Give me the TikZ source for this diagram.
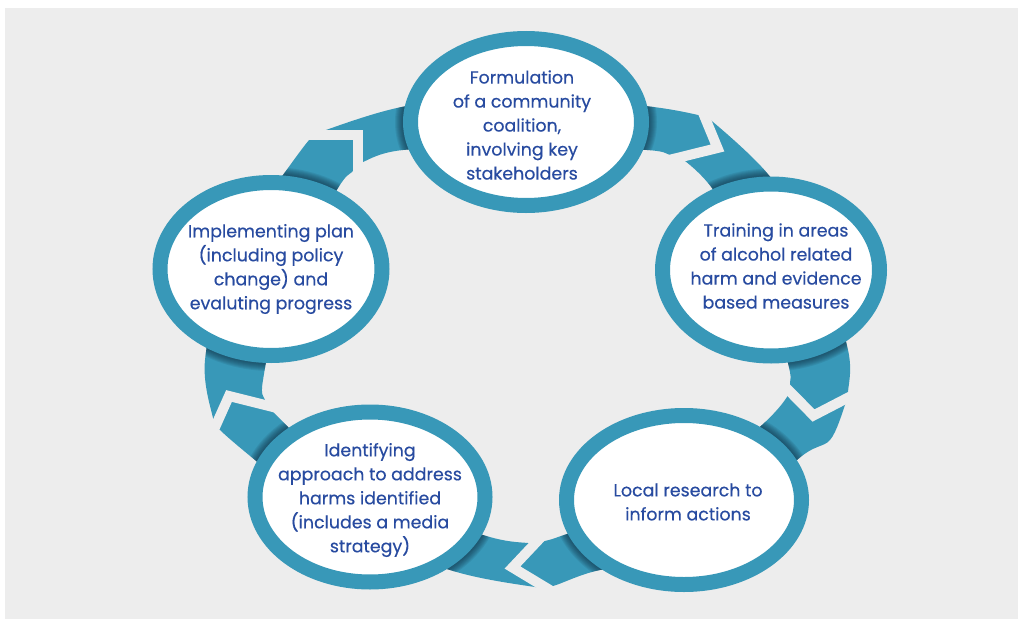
\documentclass[tikz,border=0pt]{standalone}
\usepackage{fontspec}
\setmainfont{Poppins}
\usetikzlibrary{shapes.geometric,backgrounds}

\definecolor{ringteal}{RGB}{56,152,184}
\definecolor{textblue}{RGB}{40,75,160}
\definecolor{panelgray}{RGB}{237,237,237}
\definecolor{shadenavy}{RGB}{15,45,65}

\tikzset{
    bubble/.style={ellipse, draw=ringteal, line width=15pt, fill=white, inner sep=0pt},
    caption/.style={align=center, text=textblue, font=\fontsize{17.4}{24}\selectfont\addfontfeature{FakeBold=0.4}},
    cut/.style={draw=panelgray, line width=10pt, line join=miter, miter limit=10},
}

\def\ringpath{plot[smooth cycle] coordinates {(283,175) (310,139) (323,131) (407,106) (527,97) (645,106) (698,115) (713,122) (767,173) (815,245) (848,350) (848,392) (845,405) (830,440) (797,460) (700,555) (600,570) (553,586) (535,587) (450,570) (330,520) (255,460) (220,430) (213,418) (205,360) (230,250)}
    plot[smooth cycle] coordinates {(338,188) (352,172) (363,162) (403,150) (527,145) (647,150) (670,155) (685,161) (712,188) (760,260) (788,363) (790,383) (787,397) (762,425) (680,495) (567,534) (545,541) (528,543) (483,535) (360,490) (273,412) (265,400) (263,380) (285,280)}}

\begin{document}
\begin{tikzpicture}[x=1pt, y=-1pt]
    \useasboundingbox (0,0) rectangle (1018,621);

    \node (form) at (526,122) [bubble, minimum width=231pt, minimum height=167pt] {};
    \node (train) at (771,270) [bubble, minimum width=217pt, minimum height=172pt] {};
    \node (research) at (684,500) [bubble, minimum width=235pt, minimum height=169pt] {};
    \node (approach) at (370,497) [bubble, minimum width=230pt, minimum height=170pt] {};
    \node (implement) at (271,269) [bubble, minimum width=222pt, minimum height=173pt] {};

    \node (formtext) at (522,125) [caption] {Formulation\\of a community\\coalition,\\involving key\\stakeholders};
    \node (traintext) at (776,266) [caption] {Training in areas\\of alcohol related\\harm and evidence\\based measures};
    \node (researchtext) at (688,502) [caption] {Local research to\\inform actions};
    \node (approachtext) at (370,500) [caption] {Identifying\\approach to address\\harms identified\\(includes a media\\strategy)};
    \node (implementtext) at (271,269) [caption] {Implementing plan\\(including policy\\change) and\\evaluting progress};

    \begin{scope}[on background layer]
        \fill[white] (0,0) rectangle (1018,621);
        \fill[panelgray] (5,8) rectangle (1018,619);
        \fill[ringteal, even odd rule] \ringpath;
        \begin{scope}[even odd rule]
            \clip \ringpath;
            \foreach \n/\rx/\ry in {form/115.5/83.5, train/108.5/86, research/117.5/84.5, approach/115/85, implement/111/86.5}
                \foreach \k in {1,...,8}
                    \draw[shadenavy, opacity=0.1, line width=15+2*\k] (\n.center) ellipse [x radius=\rx, y radius=\ry];
        \end{scope}
        \draw[cut] (701,108) -- (717.5,148) -- (665,161);
        \draw[cut] (855,394) -- (813.5,415.5) -- (781.5,383);
        \draw[cut] (552.6,591.7) -- (512.5,567.5) -- (543.4,534.7);
        \draw[cut] (212.4,433.1) -- (229,396) -- (278.7,408.4);
        \draw[cut] (300,135) -- (357.5,135) -- (357.5,177);
    \end{scope}
\end{tikzpicture}
\end{document}
